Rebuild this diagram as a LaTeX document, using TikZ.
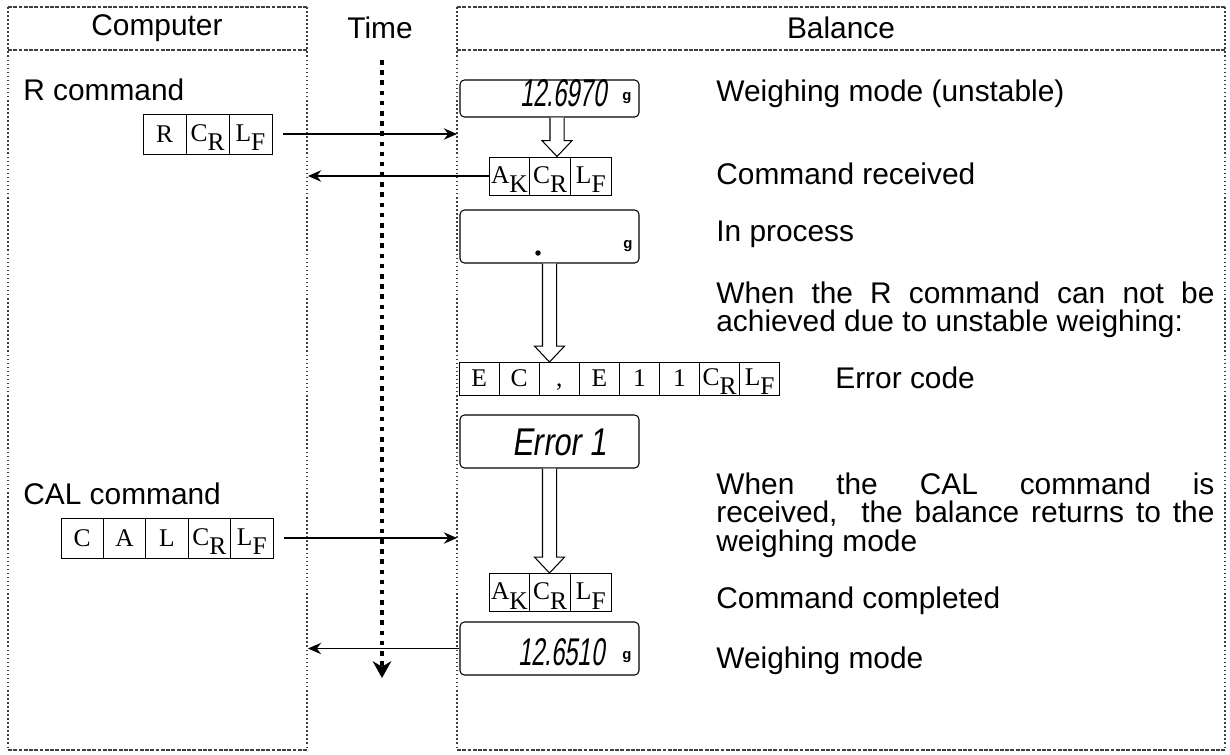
\documentclass[tikz,border=0pt]{standalone}
\usepackage{fontspec}
\setmainfont{Liberation Sans}
\newfontfamily\cellfont{Liberation Serif}
\newfontfamily\segfont[FakeStretch=0.62,FakeSlant=0.15]{Liberation Sans}
\newfontfamily\segwide[FakeStretch=0.8,FakeSlant=0.15]{Liberation Sans}
\usetikzlibrary{arrows.meta,calc}
\newcommand{\ctl}[2]{\raisebox{0.8pt}{#1}\raisebox{-4.6pt}{#2}}
\begin{document}
\begin{tikzpicture}[x=0.02cm,y=-0.02cm,
  lbl/.style={inner sep=0pt, anchor=base west, font=\fontsize{17}{16.3}\selectfont},
  para/.style={lbl, text width=283.5pt, align=justify},
  hdr/.style={inner sep=0pt, font=\fontsize{17}{17}\selectfont},
  cell/.style={draw, line width=0.55pt, inner sep=0pt, minimum height=0.8cm, text height=9.6pt, text depth=0pt, font=\cellfont\fontsize{14.5}{14.5}\selectfont},
  disp/.style={draw, line width=0.6pt, rounded corners=2.5pt, minimum width=3.58cm, inner sep=0pt},
  seg/.style={inner sep=0pt, anchor=base east, font=\segfont\fontsize{22}{22}\selectfont},
  unit/.style={inner sep=0pt, font=\bfseries\fontsize{8.5}{8.5}\selectfont},
  vborder/.style={line width=0.85pt, black!75, dash pattern=on 0.9pt off 1.4pt},
  hborder/.style={line width=0.85pt, black!75, dash pattern=on 2.2pt off 0.8pt},
  msg/.style={line width=0.7pt, -{Stealth[length=7.5pt,width=6.5pt,inset=2.5pt]}},
  timeline/.style={line width=2.8pt, dash pattern=on 2.6pt off 3.2pt, -{Stealth[length=9.5pt,width=10.5pt,inset=3pt]}},
  hollow/.style={draw, line width=0.6pt, fill=white}
]
\useasboundingbox (0,0) rectangle (1230,754);

% ---------- frames ----------
\draw[hborder] (8,7) -- (307,7);
\draw[hborder] (8,50) -- (307,50);
\draw[hborder] (8,750) -- (307,750);
\draw[vborder] (8,7) -- (8,750);
\draw[vborder] (307,7) -- (307,750);
\draw[hborder] (457,7) -- (1225,7);
\draw[hborder] (457,50) -- (1225,50);
\draw[hborder] (457,750) -- (1225,750);
\draw[vborder] (457,7) -- (457,750);
\draw[vborder] (1225,7) -- (1225,750);

\node[hdr] (hcomp) at (157,28) {Computer};
\node[hdr] (htime) at (380,28) {Time};
\node[hdr] (hbal) at (841,28) {Balance};

% ---------- time line ----------
\coordinate (ts) at (382,60);
\coordinate (te) at (382,678);
\draw[timeline] (ts) -- (te);

% ---------- computer side ----------
\node[lbl] (rcmd) at (23,100) {R command};
\begin{scope}[every node/.style={cell, minimum width=0.86cm}]
  \node (r1) at (164.5,134) {R};
  \node (r2) at (207.5,134) {\ctl{C}{R}};
  \node (r3) at (250.5,134) {\ctl{L}{F}};
\end{scope}
\node[lbl] (calcmd) at (23,504) {CAL command};
\begin{scope}[every node/.style={cell, minimum width=0.848cm}]
  \node (c1) at (82.2,538) {C};
  \node (c2) at (124.6,538) {A};
  \node (c3) at (167,538) {L};
  \node (c4) at (209.4,538) {\ctl{C}{R}};
  \node (c5) at (251.8,538) {\ctl{L}{F}};
\end{scope}

% ---------- balance side ----------
\node[disp, minimum height=0.74cm] (d1) at (549.5,98.5) {};
\node[seg] (d1t) at (607,106) {12.6970};
\node[unit] (d1g) at (627,98) {g};

\begin{scope}[every node/.style={cell, minimum width=0.814cm, minimum height=0.76cm}]
  \node (a1) at (509.4,176) {\ctl{A}{K}};
  \node (a2) at (550.1,176) {\ctl{C}{R}};
  \node (a3) at (590.8,176) {\ctl{L}{F}};
\end{scope}

\node[disp, minimum height=1.06cm] (d2) at (549.5,236.5) {};
\node[circle, fill, inner sep=1.1pt] (d2dot) at (538,253) {};
\node[unit] (d2g) at (628,246) {g};

\begin{scope}[every node/.style={cell, minimum width=0.802cm, minimum height=0.66cm, text depth=0.8pt}]
  \node (e1) at (479.05,379) {E};
  \node (e2) at (519.15,379) {C};
  \node (e3) at (559.25,379) {,};
  \node (e4) at (599.35,379) {E};
  \node (e5) at (639.45,379) {1};
  \node (e6) at (679.55,379) {1};
  \node (e7) at (719.65,379) {\ctl{C}{R}};
  \node (e8) at (759.75,379) {\ctl{L}{F}};
\end{scope}

\node[disp, minimum height=1.06cm] (d3) at (549.5,441.5) {};
\node[inner sep=0pt, anchor=base east, font=\segwide\fontsize{22}{22}\selectfont] (d3t) at (607,455) {Error 1};

\begin{scope}[every node/.style={cell, minimum width=0.814cm, minimum height=0.76cm}]
  \node (k1) at (509.4,592.5) {\ctl{A}{K}};
  \node (k2) at (550.1,592.5) {\ctl{C}{R}};
  \node (k3) at (590.8,592.5) {\ctl{L}{F}};
\end{scope}

\node[disp, minimum height=1.06cm] (d4) at (549.5,648.5) {};
\node[seg] (d4t) at (605,665) {12.6510};
\node[unit] (d4g) at (627,657) {g};

% ---------- descriptions ----------
\node[lbl] (t1) at (716,101) {Weighing mode (unstable)};
\node[lbl] (t2) at (716,184) {Command received};
\node[lbl] (t3) at (716,241) {In process};
\node[para] (t4) at (716,303) {\tolerance=9999 When the R command can not be\linebreak achieved due to unstable weighing:};
\node[lbl] (t5) at (835,388) {Error code};
\node[para] (t6) at (716,494) {\tolerance=9999 When the CAL command is\linebreak received,\ \ the balance returns to the\linebreak weighing mode};
\node[lbl] (t7) at (716,608) {Command completed};
\node[lbl] (t8) at (716,668) {Weighing mode};

% ---------- messages ----------
\coordinate (bin1) at (457,134);
\coordinate (cin1) at (308,176);
\coordinate (bin2) at (457,538);
\coordinate (cin2) at (308,648.5);
\draw[msg, shorten <=6.2pt] (r3.east) -- (bin1);
\draw[msg] (a1.west) -- (cin1);
\draw[msg, shorten <=6.2pt] (c5.east) -- (bin2);
\draw[msg] (d4.west) -- (cin2);

% ---------- hollow arrows ----------
\path (d1.south) ++(7.5,0) coordinate (h1a);
\draw[hollow] let \p1=(h1a), \p2=(a2.north) in
  (\x1-4pt,\y1) -- (\x1-4pt,\y2+9pt) -- (\x1-8.5pt,\y2+9pt) -- (\x1,\y2)
  -- (\x1+8.5pt,\y2+9pt) -- (\x1+4pt,\y2+9pt) -- (\x1+4pt,\y1);
\draw[hollow] let \p1=(d2.south), \p2=(e3.north) in
  (\x1-4pt,\y1) -- (\x1-4pt,\y2+9pt) -- (\x1-8.5pt,\y2+9pt) -- (\x1,\y2)
  -- (\x1+8.5pt,\y2+9pt) -- (\x1+4pt,\y2+9pt) -- (\x1+4pt,\y1);
\draw[hollow] let \p1=(d3.south), \p2=(k2.north) in
  (\x1-4pt,\y1) -- (\x1-4pt,\y2+9pt) -- (\x1-8.5pt,\y2+9pt) -- (\x1,\y2)
  -- (\x1+8.5pt,\y2+9pt) -- (\x1+4pt,\y2+9pt) -- (\x1+4pt,\y1);
\end{tikzpicture}
\end{document}
